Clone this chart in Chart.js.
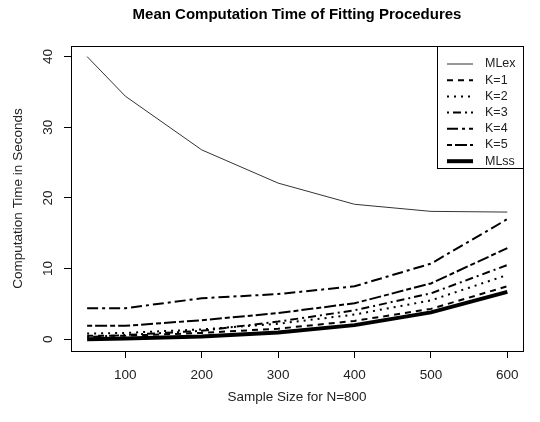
<!DOCTYPE html>
<html>
<head>
<meta charset="utf-8">
<script src="https://cdn.jsdelivr.net/npm/chart.js@4/dist/chart.umd.min.js"></script>
<style>
  html, body { margin: 0; padding: 0; background: #fff; }
  #wrap { width: 540px; height: 422px; }
</style>
</head>
<body>
<div id="wrap"><canvas id="myChart" width="540" height="422"></canvas></div>
<script>
"use strict"

// data
const sampleSizes = [50, 100, 200, 300, 400, 500, 600];
const mlex = [40, 34.4, 26.8, 22.1, 19.1, 18.1, 18.0];
const k1 = [0.5, 0.5, 0.9, 1.5, 2.6, 4.3, 7.5];
const k2 = [0.8, 0.9, 1.4, 2.2, 3.5, 5.5, 9.1];
const k3 = [0.3, 0.6, 1.2, 2.5, 4.1, 6.5, 10.5];
const k4 = [4.4, 4.4, 5.8, 6.4, 7.5, 10.7, 17.0];
const k5 = [1.9, 1.9, 2.7, 3.7, 5.1, 7.9, 12.9];
const mlss = [0.0, 0.1, 0.4, 0.95, 2.0, 3.8, 6.7];

const xTicks = [100, 200, 300, 400, 500, 600];
const yTicks = [0, 10, 20, 30, 40];

const font = 'Liberation Sans, Arial, sans-serif';

function toPoints(values) {
    return values.map((v, i) => ({ x: sampleSizes[i], y: v }));
}

function makeSet(label, values, width, dash, color) {
    return {
        label: label,
        data: toPoints(values),
        borderColor: color || '#000',
        borderWidth: width,
        borderDash: dash,
        pointRadius: 0,
        tension: 0,
        fill: false
    };
}

// box round the plot + legend in the top right corner, R style
const boxPlugin = {
    id: 'box',
    afterDraw(chart) {
        const c = chart.ctx;
        const a = chart.chartArea;
        c.save();
        c.strokeStyle = '#000';
        c.lineWidth = 1;
        c.strokeRect(Math.round(a.left) + 0.5, Math.round(a.top) + 0.5, Math.round(a.right - a.left), Math.round(a.bottom - a.top));

        const lx = Math.round(a.right) - 86;
        const ly = Math.round(a.top);
        c.fillStyle = '#fff';
        c.fillRect(lx, ly, 86, 122);
        c.strokeRect(lx + 0.5, ly + 0.5, 86, 122);

        c.font = '12.5px ' + font;
        c.textBaseline = 'middle';
        chart.data.datasets.forEach((ds, i) => {
            const y = ly + 18 + i * 16.2;
            c.beginPath();
            c.strokeStyle = ds.borderColor;
            c.lineWidth = ds.borderWidth;
            c.setLineDash(ds.borderDash || []);
            c.moveTo(lx + 10, y);
            c.lineTo(lx + 36, y);
            c.stroke();
            c.setLineDash([]);
            c.fillStyle = '#222';
            c.fillText(ds.label, lx + 48, y);
        });
        c.restore();
    }
};

const ctx = document.getElementById('myChart');

const myChart = new Chart(ctx, {
    type: 'line',
    data: {
        datasets: [
            makeSet('MLex', mlex, 1, [], '#333'),
            makeSet('K=1', k1, 2, [6, 5]),
            makeSet('K=2', k2, 2, [2, 5]),
            makeSet('K=3', k3, 2, [2, 4, 8, 4]),
            makeSet('K=4', k4, 2, [11, 4, 3, 4]),
            makeSet('K=5', k5, 2, [5, 3, 12, 3]),
            makeSet('MLss', mlss, 4, [])
        ]
    },
    plugins: [boxPlugin],
    options: {
        responsive: false,
        animation: false,
        layout: { padding: { left: 0, right: 17, top: 0, bottom: 0 } },
        plugins: {
            legend: { display: false },
            tooltip: { enabled: false },
            title: {
                display: true,
                fullSize: false,
                text: 'Mean Computation Time of Fitting Procedures',
                color: '#000',
                font: { family: font, size: 15, weight: 'bold' },
                padding: { top: 5.8, bottom: 22.2 }
            }
        },
        scales: {
            x: {
                type: 'linear',
                min: 28.9,
                max: 620.5,
                afterBuildTicks: (scale) => { scale.ticks = xTicks.map(v => ({ value: v })); },
                afterFit: (scale) => { scale.height = 71; },
                grid: { drawOnChartArea: false, drawTicks: true, tickLength: 7, color: '#000' },
                border: { display: true, color: '#000' },
                ticks: { color: '#222', padding: 9, maxRotation: 0, font: { family: font, size: 13.5 } },
                title: {
                    display: true,
                    text: 'Sample Size for N=800',
                    color: '#222',
                    font: { family: font, size: 13.5 },
                    padding: { top: 0, bottom: 17 }
                }
            },
            y: {
                min: -1.66,
                max: 41.5,
                afterBuildTicks: (scale) => { scale.ticks = yTicks.map(v => ({ value: v })); },
                afterFit: (scale) => { scale.width = 71; },
                grid: { drawOnChartArea: false, drawTicks: true, tickLength: 7, color: '#000' },
                border: { display: true, color: '#000' },
                ticks: { color: '#222', padding: 8.5, minRotation: 90, maxRotation: 90, crossAlign: 'center', font: { family: font, size: 13.5 } },
                title: {
                    display: true,
                    text: 'Computation Time in Seconds',
                    color: '#222',
                    font: { family: font, size: 13.5 },
                    padding: { top: 10, bottom: 0 }
                }
            }
        }
    }
});
</script>
</body>
</html>
